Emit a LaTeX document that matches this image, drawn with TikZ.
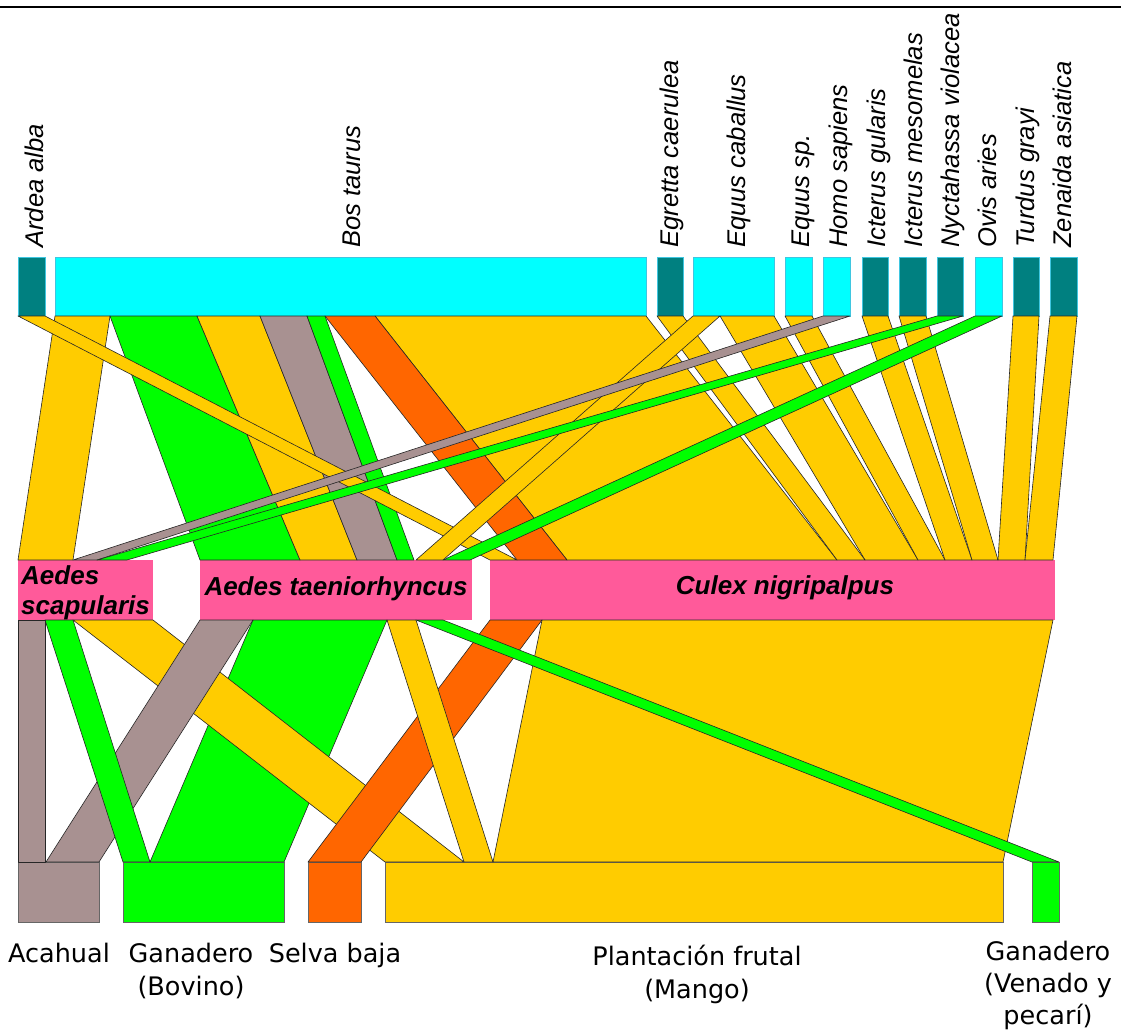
\documentclass[tikz,border=0pt]{standalone}
\usepackage{fontspec}
\setmainfont{Liberation Sans}
\newfontfamily\dejavu{DejaVu Sans}
\definecolor{hteal}{HTML}{008080}
\definecolor{hcyan}{HTML}{00FFFF}
\definecolor{hborder}{HTML}{3FC6E0}
\definecolor{mpink}{HTML}{FF5A9A}
\definecolor{lyellow}{HTML}{FFCC00}
\definecolor{lgreen}{HTML}{00FF00}
\definecolor{lgray}{HTML}{A89191}
\definecolor{lorange}{HTML}{FF6600}
\newcommand\upband[5]{\filldraw[linkline, fill=#1] (#2,316) -- (#3,316) -- (#5,560) -- (#4,560) -- cycle;}
\newcommand\lowband[5]{\filldraw[linkline, fill=#1] (#2,620) -- (#3,620) -- (#5,862) -- (#4,862) -- cycle;}
\begin{document}
\begin{tikzpicture}[x=1pt,y=-1pt,
  linkline/.style={draw=black!85, line width=0.6pt, line join=round},
  hostbox/.style={draw=hborder, line width=0.7pt, inner sep=0, minimum height=59pt, anchor=north west},
  mosbox/.style={fill=mpink, inner sep=0, minimum height=60pt, anchor=north west},
  habbox/.style={draw=black!60, line width=0.6pt, inner sep=0, minimum height=60pt, anchor=north west},
  hostlab/.style={rotate=90, anchor=base west, inner sep=0, font=\fontsize{25.6}{30}\selectfont\itshape},
  moslab/.style={inner sep=0, font=\fontsize{26}{32}\selectfont\bfseries\itshape},
  hablab/.style={inner sep=0, align=center, anchor=north, font=\dejavu\fontsize{25.5}{33}\selectfont}]
\useasboundingbox (0,0) rectangle (1121,1032);
\draw[line width=1.6pt] (0,7) -- (1121,7);

% host boxes
\node[hostbox, fill=hteal, minimum width=27pt] (ardea) at (18,257) {};
\node[hostbox, fill=hcyan, minimum width=591pt] (bos) at (55,257) {};
\node[hostbox, fill=hteal, minimum width=26pt] (egretta) at (657,257) {};
\node[hostbox, fill=hcyan, minimum width=81pt] (eqcab) at (693,257) {};
\node[hostbox, fill=hcyan, minimum width=27pt] (eqsp) at (785,257) {};
\node[hostbox, fill=hcyan, minimum width=27pt] (homo) at (823,257) {};
\node[hostbox, fill=hteal, minimum width=26pt] (ictg) at (862,257) {};
\node[hostbox, fill=hteal, minimum width=27pt] (ictm) at (899,257) {};
\node[hostbox, fill=hteal, minimum width=26pt] (nyct) at (937,257) {};
\node[hostbox, fill=hcyan, minimum width=27pt] (ovis) at (975,257) {};
\node[hostbox, fill=hteal, minimum width=26pt] (turdus) at (1013,257) {};
\node[hostbox, fill=hteal, minimum width=27pt] (zenaida) at (1050,257) {};

% host labels
\node[hostlab] (lardea) at (43,248) {Ardea alba};
\node[hostlab] (lbos) at (360,248) {Bos taurus};
\node[hostlab] (legretta) at (678,248) {Egretta caerulea};
\node[hostlab] (leqcab) at (745,248) {Equus caballus};
\node[hostlab] (leqsp) at (809,248) {Equus sp.};
\node[hostlab] (lhomo) at (847,248) {Homo sapiens};
\node[hostlab] (lictg) at (885,248) {Icterus gularis};
\node[hostlab] (lictm) at (922,248) {Icterus mesomelas};
\node[hostlab] (lnyct) at (959,248) {Nyctahassa violacea};
\node[hostlab] (lovis) at (996,248) {Ovis aries};
\node[hostlab] (lturdus) at (1034,248) {Turdus grayi};
\node[hostlab] (lzenaida) at (1071,248) {Zenaida asiatica};

% mosquito boxes
\node[mosbox, minimum width=135pt] (aedscap) at (18,560) {};
\node[mosbox, minimum width=272pt] (aedtaen) at (200,560) {};
\node[mosbox, minimum width=565pt] (culex) at (490,560) {};

% habitat boxes
\node[habbox, fill=lgray, minimum width=81pt] (acahual) at (18,862) {};
\node[habbox, fill=lgreen, minimum width=161pt] (ganbov) at (123,862) {};
\node[habbox, fill=lorange, minimum width=53pt] (selva) at (308,862) {};
\node[habbox, fill=lyellow, minimum width=618pt] (plant) at (385,862) {};
\node[habbox, fill=lgreen, minimum width=27pt] (ganven) at (1032,862) {};

% upper links (hosts -> mosquitoes)
\upband{lyellow}{375}{646}{567}{837}
\upband{lgreen}{110}{197}{200}{300}
\upband{lyellow}{197}{260}{300}{357}
\upband{lyellow}{55}{110}{18}{73}
\upband{lyellow}{720}{774}{865}{918}
\upband{lorange}{325}{375}{517}{567}
\upband{lgray}{260}{307}{357}{397}
\upband{lgreen}{307}{325}{397}{414}
\upband{lyellow}{18}{45}{490}{517}
\upband{lyellow}{657}{683}{837}{865}
\upband{lyellow}{693}{720}{416}{443}
\upband{lyellow}{785}{812}{918}{945}
\upband{lgray}{823}{850}{73}{97}
\upband{lyellow}{862}{888}{945}{972}
\upband{lyellow}{899}{926}{972}{998}
\upband{lgreen}{937}{963}{97}{127}
\upband{lgreen}{975}{1002}{443}{470}
\upband{lyellow}{1013}{1039}{998}{1025}
\upband{lyellow}{1050}{1077}{1025}{1053}

% lower links (mosquitoes -> habitats)
\lowband{lyellow}{542}{1053}{493}{1003}
\lowband{lgreen}{253}{387}{150}{284}
\lowband{lyellow}{73}{153}{385}{464}
\lowband{lgray}{200}{253}{46}{99}
\lowband{lorange}{490}{542}{308}{361}
\lowband{lyellow}{387}{416}{464}{493}
\lowband{lgreen}{45}{73}{123}{150}
\lowband{lgray}{18}{45}{18}{45}
\lowband{lgreen}{416}{443}{1032}{1059}

% mosquito labels
\node[moslab, anchor=base west] (laedscap1) at (21,584) {Aedes};
\node[moslab, anchor=base west] (laedscap2) at (21,614) {scapularis};
\node[moslab, anchor=base] (laedtaen) at (336,595) {Aedes taeniorhyncus};
\node[moslab, anchor=base] (lculex) at (785,594) {Culex nigripalpus};

% habitat labels
\node[hablab] (lacahual) at (59,943) {Acahual};
\node[hablab] (lganbov) at (191,943) {Ganadero\\(Bovino)};
\node[hablab] (lselva) at (335,943) {Selva baja};
\node[hablab] (lplant) at (697,945) {Plantación frutal\\(Mango)};
\node[hablab, font=\dejavu\fontsize{25.5}{32}\selectfont] (lganven) at (1048,941) {Ganadero\\(Venado y\\pecarí)};
\end{tikzpicture}
\end{document}
